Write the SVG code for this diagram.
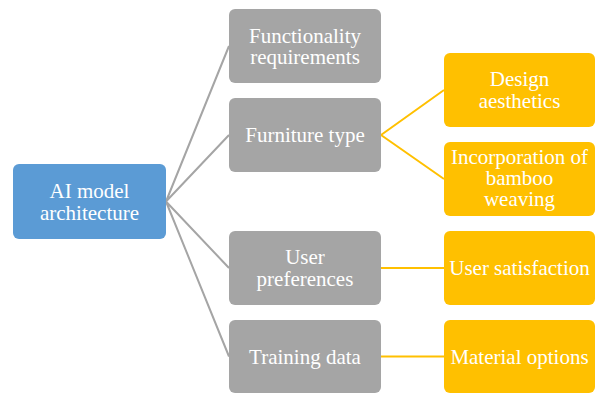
<svg xmlns="http://www.w3.org/2000/svg" width="595" height="394" viewBox="0 0 595 394">
<style>
text{font-family:"Liberation Serif","Times New Roman",serif;font-size:21px;fill:#fff;text-anchor:middle}
.blue{fill:#5B9BD5}
.gray{fill:#A5A5A5}
.orange{fill:#FFC000}
.cg{stroke:#A5A5A5;stroke-width:2;fill:none}
.co{stroke:#FFC000;stroke-width:2;fill:none}
</style>
<rect width="595" height="394" fill="#fff"/>
<g id="connectors">
<path class="cg" d="M166 201.5L229 46M166 201.5L229 135M166 201.5L229 268M166 201.5L229 356.5"/>
<path class="co" d="M381 135L444 90M381 135L444 179M381 268H444M381 356.5H444"/>
</g>
<g id="root"><rect class="blue" x="13" y="164" width="153" height="75" rx="6"/><text x="89.5" y="198">AI model</text><text x="89.5" y="219.5">architecture</text></g>
<g id="functionality"><rect class="gray" x="229" y="9" width="152" height="74" rx="6"/><text x="305" y="42.5">Functionality</text><text x="305" y="64">requirements</text></g>
<g id="furniture"><rect class="gray" x="229" y="98" width="152" height="74" rx="6"/><text x="305" y="142">Furniture type</text></g>
<g id="preferences"><rect class="gray" x="229" y="231" width="152" height="74" rx="6"/><text x="305" y="264">User</text><text x="305" y="285.5">preferences</text></g>
<g id="training"><rect class="gray" x="229" y="320" width="152" height="73" rx="6"/><text x="305" y="363.5">Training data</text></g>
<g id="design"><rect class="orange" x="444" y="53" width="151" height="74" rx="6"/><text x="519.5" y="86">Design</text><text x="519.5" y="107.5">aesthetics</text></g>
<g id="bamboo"><rect class="orange" x="444" y="142" width="151" height="74" rx="6"/><text x="519.5" y="163.5">Incorporation of</text><text x="519.5" y="184.5">bamboo</text><text x="519.5" y="205.5">weaving</text></g>
<g id="satisfaction"><rect class="orange" x="444" y="231" width="151" height="74" rx="6"/><text x="519.5" y="275">User satisfaction</text></g>
<g id="material"><rect class="orange" x="444" y="320" width="151" height="73" rx="6"/><text x="519.5" y="363.5">Material options</text></g>
</svg>
